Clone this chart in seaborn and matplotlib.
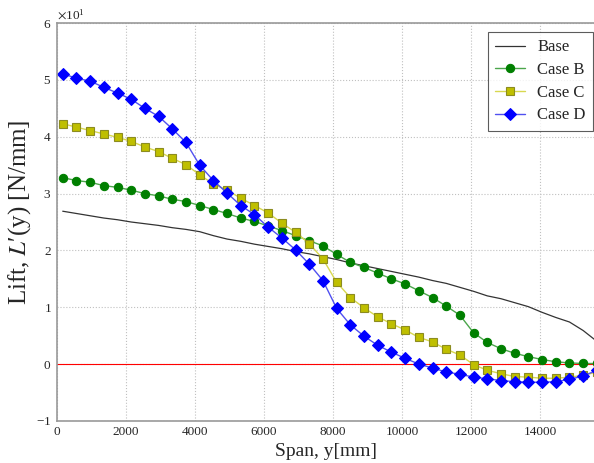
import matplotlib
matplotlib.use("Agg")
import matplotlib.pyplot as plt
import matplotlib.ticker as mticker
import seaborn as sns
import pandas as pd

# spanwise stations [mm]
span_y = [165, 562, 959, 1356, 1753, 2150, 2547, 2944, 3341, 3738,
          4135, 4532, 4929, 5326, 5723, 6120, 6517, 6914, 7311, 7708,
          8105, 8502, 8899, 9296, 9693, 10090, 10487, 10884, 11281, 11678,
          12075, 12472, 12869, 13266, 13663, 14060, 14457, 14854, 15251, 15648]

# lift per unit span [N/mm]
lift_base = [26.9, 26.5, 26.1, 25.7, 25.4, 25.0, 24.7, 24.4, 24.0, 23.7,
             23.3, 22.6, 22.0, 21.6, 21.1, 20.7, 20.3, 19.8, 19.4, 18.9,
             18.4, 17.8, 17.3, 16.8, 16.3, 15.8, 15.3, 14.7, 14.2, 13.5,
             12.8, 12.0, 11.5, 10.8, 10.1, 9.1, 8.2, 7.4, 5.9, 4.0]
lift_b = [32.8, 32.3, 32.0, 31.4, 31.1, 30.6, 30.0, 29.6, 29.0, 28.6,
          27.9, 27.2, 26.5, 25.7, 25.1, 24.3, 23.5, 22.6, 21.7, 20.8,
          19.3, 17.9, 17.0, 16.0, 15.0, 14.1, 12.9, 11.7, 10.2, 8.6,
          5.5, 3.8, 2.7, 1.9, 1.3, 0.8, 0.4, 0.2, 0.1, 0.1]
lift_c = [42.3, 41.7, 41.1, 40.5, 39.9, 39.2, 38.2, 37.4, 36.2, 35.1,
          33.3, 31.7, 30.6, 29.2, 27.9, 26.6, 24.8, 23.2, 21.2, 18.5,
          14.4, 11.7, 9.9, 8.3, 7.1, 6.0, 4.7, 3.9, 2.6, 1.6,
          -0.1, -1.1, -1.7, -2.2, -2.3, -2.5, -2.5, -2.3, -2.0, -1.4]
lift_d = [51.1, 50.3, 49.8, 48.7, 47.7, 46.6, 45.0, 43.6, 41.4, 39.0,
          35.0, 32.3, 30.1, 27.9, 26.3, 24.1, 22.2, 20.1, 17.6, 14.7,
          9.8, 6.9, 4.9, 3.3, 2.1, 1.0, 0.0, -0.7, -1.4, -1.8,
          -2.3, -2.6, -2.9, -3.1, -3.2, -3.2, -3.1, -2.7, -2.1, -1.1]

df = pd.DataFrame({'y': span_y, 'Base': lift_base, 'Case B': lift_b,
                   'Case C': lift_c, 'Case D': lift_d})

sns.set_style('white')
plt.rcParams['font.family'] = ['Liberation Serif', 'DejaVu Serif']
plt.rcParams['mathtext.fontset'] = 'stix'

fig = plt.figure(figsize=(5.94, 4.63), dpi=100)
ax = fig.add_axes([0.096, 0.091, 0.904, 0.859])

ax.axhline(0, color='red', lw=0.8, zorder=1)

sns.lineplot(data=df, x='y', y='Base', ax=ax, color='#333333', lw=0.9,
             label='Base', sort=False)
sns.lineplot(data=df, x='y', y='Case B', ax=ax, color='#4ca64c', lw=1.0,
             marker='o', ms=6, mfc='#007f00', mec='#007f00',
             label='Case B', sort=False)
sns.lineplot(data=df, x='y', y='Case C', ax=ax, color='#d8d850', lw=1.0,
             marker='s', ms=5.8, mfc='#bfbf00', mec='#8c8c20', mew=0.8,
             label='Case C', sort=False)
sns.lineplot(data=df, x='y', y='Case D', ax=ax, color='#5050f0', lw=1.0,
             marker='D', ms=6, mfc='#0000ff', mec='#0000ff',
             label='Case D', sort=False)

ax.set_xlim(0, 15565)
ax.set_ylim(-10, 60)
ax.xaxis.set_major_locator(mticker.MultipleLocator(2000))
ax.yaxis.set_major_locator(mticker.MultipleLocator(10))

fmt = mticker.ScalarFormatter(useMathText=True)
fmt.set_powerlimits((0, 0))
ax.yaxis.set_major_formatter(fmt)
ax.yaxis.get_offset_text().set_fontsize(9.5)

ax.grid(True, ls=':', color='#c0c0c0', lw=0.8)
for s in ax.spines.values():
    s.set_color('#999999')
    s.set_linewidth(1.2)
ax.spines['right'].set_visible(False)
ax.tick_params(length=0, labelsize=9.5, pad=4)

ax.set_xlabel('Span, y[mm]', fontsize=14, labelpad=3)
ax.set_ylabel("Lift, $L$\u2032(y) [N/mm]", fontsize=18)
ax.yaxis.set_label_coords(-0.045, 0.525)

leg = ax.legend(loc='upper right', bbox_to_anchor=(0.998, 0.978),
                borderaxespad=0, fontsize=12, frameon=True, fancybox=False,
                edgecolor='#333333', handlelength=1.8, handletextpad=0.7,
                borderpad=0.45, labelspacing=0.4)
leg.get_frame().set_linewidth(0.8)

fig.savefig('out.png', dpi=100)
